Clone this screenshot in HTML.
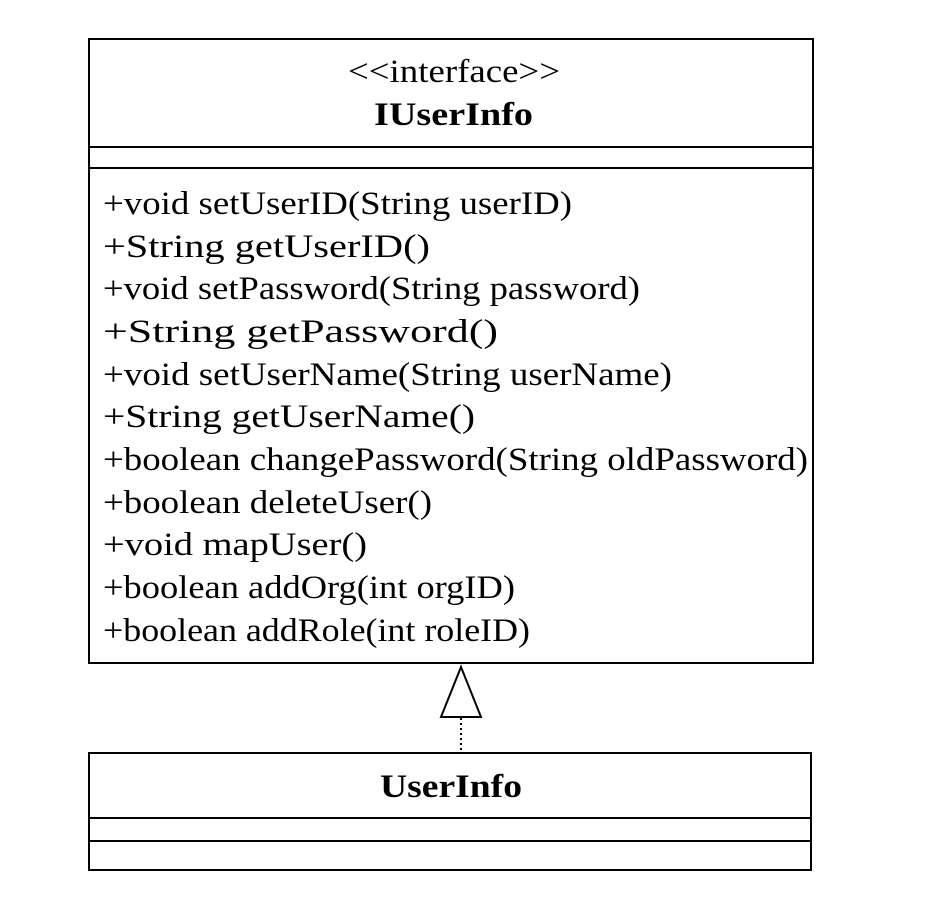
<!DOCTYPE html>
<html><head><meta charset="utf-8"><style>html,body{margin:0;padding:0;background:#fff}</style></head>
<body>
<svg width="950" height="902" viewBox="0 0 950 902" xmlns="http://www.w3.org/2000/svg" font-family="Liberation Serif, serif" fill="#000">
<g fill="none" stroke="#000" stroke-width="2">
<rect x="89" y="39" width="724" height="624"/>
<line x1="89" y1="147" x2="813" y2="147"/>
<line x1="89" y1="168" x2="813" y2="168"/>
<rect x="89" y="753" width="722" height="117"/>
<line x1="89" y1="818" x2="811" y2="818"/>
<line x1="89" y1="841" x2="811" y2="841"/>
<polygon points="461,667 441,717 481,717" fill="#fff"/>
<line x1="461" y1="718" x2="461" y2="752" stroke-dasharray="2,3"/>
</g>
<g font-size="33">
<text x="348" y="82" textLength="212" lengthAdjust="spacingAndGlyphs">&lt;&lt;interface&gt;&gt;</text>
<text x="374" y="125" font-weight="bold" textLength="159" lengthAdjust="spacingAndGlyphs">IUserInfo</text>
<text x="380" y="797" font-weight="bold" textLength="142" lengthAdjust="spacingAndGlyphs">UserInfo</text>
<text x="103" y="214" textLength="469" lengthAdjust="spacingAndGlyphs">+void setUserID(String userID)</text>
<text x="103" y="257" textLength="327" lengthAdjust="spacingAndGlyphs">+String getUserID()</text>
<text x="103" y="299" textLength="537" lengthAdjust="spacingAndGlyphs">+void setPassword(String password)</text>
<text x="103" y="342" textLength="395" lengthAdjust="spacingAndGlyphs">+String getPassword()</text>
<text x="103" y="385" textLength="569" lengthAdjust="spacingAndGlyphs">+void setUserName(String userName)</text>
<text x="103" y="427" textLength="372" lengthAdjust="spacingAndGlyphs">+String getUserName()</text>
<text x="103" y="470" textLength="705" lengthAdjust="spacingAndGlyphs">+boolean changePassword(String oldPassword)</text>
<text x="103" y="513" textLength="329" lengthAdjust="spacingAndGlyphs">+boolean deleteUser()</text>
<text x="103" y="555" textLength="264" lengthAdjust="spacingAndGlyphs">+void mapUser()</text>
<text x="103" y="598" textLength="412" lengthAdjust="spacingAndGlyphs">+boolean addOrg(int orgID)</text>
<text x="103" y="641" textLength="427" lengthAdjust="spacingAndGlyphs">+boolean addRole(int roleID)</text>
</g>
</svg>
</body></html>
